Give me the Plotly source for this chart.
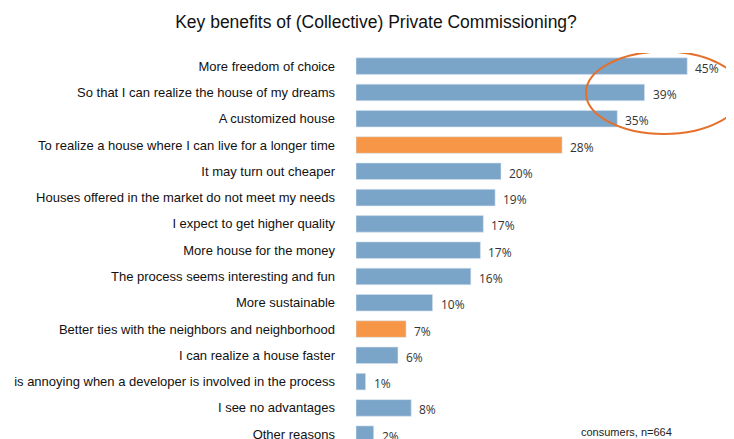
import plotly.graph_objects as go

categories = [
    "More freedom of choice",
    "So that I can realize the house of my dreams",
    "A customized house",
    "To realize a house where I can live for a longer time",
    "It may turn out cheaper",
    "Houses offered in the market do not meet my needs",
    "I expect to get higher quality",
    "More house for the money",
    "The process seems interesting and fun",
    "More sustainable",
    "Better ties with the neighbors and neighborhood",
    "I can realize a house faster",
    "is annoying when a developer is involved in the process",
    "I see no advantages",
    "Other reasons",
]
values = [45.0, 39.2, 35.5, 28.0, 19.7, 18.9, 17.3, 16.9, 15.6, 10.4, 6.8, 5.7, 1.3, 7.5, 2.4]
labels = ["45%", "39%", "35%", "28%", "20%", "19%", "17%", "17%", "16%", "10%", "7%", "6%", "1%", "8%", "2%"]
highlight = [False, False, False, True, False, False, False, False, False, False, True, False, False, False, False]

BLUE = "#7BA4C9"
ORANGE = "#F79646"
colors = [ORANGE if h else BLUE for h in highlight]

OFF = 8  # page body margin
W, H = 734, 439
L = 356 - OFF
PX_PER_PCT = 7.36
xmax = (W - L) / PX_PER_PCT
T = 53 - OFF
row_h = 26.29
ymax = (H - T) / row_h - 0.5

fig = go.Figure()
fig.add_trace(go.Bar(
    x=values, y=categories, orientation="h",
    marker=dict(color=colors, line=dict(color="#d6e2ee", width=0.6)),
    width=0.63, hoverinfo="skip",
))

for c, v, t in zip(categories, values, labels):
    fig.add_annotation(x=v, y=c, text=t, xref="x", yref="y", xanchor="left", yanchor="middle",
                       xshift=6, yshift=-2, showarrow=False,
                       font=dict(family="Open Sans", size=12, color="#333333"))

# highlight ellipse (page px -> data coords)
def px2x(px):
    return (px - OFF - L) / PX_PER_PCT
def py2y(py):
    return (py - OFF - T) / row_h - 0.5

fig.add_shape(type="circle", xref="x", yref="y",
              x0=px2x(586), x1=px2x(742), y0=py2y(51.5), y1=py2y(134),
              line=dict(color="#E4702C", width=2))

fig.add_annotation(text="consumers, n=664", xref="paper", yref="paper",
                   x=(579 - OFF - L) / (W - L), y=(H - (432 - OFF)) / (H - T),
                   xanchor="left", yanchor="middle", showarrow=False,
                   font=dict(family="Liberation Sans", size=11, color="#222222"))

fig.update_layout(
    width=W, height=H, autosize=False,
    margin=dict(l=L, r=0, t=T, b=0),
    plot_bgcolor="white", paper_bgcolor="white",
    showlegend=False,
    title=dict(text="Key benefits of (Collective) Private Commissioning?", x=(376 - OFF) / W, xanchor="center",
               y=1 - (22 - OFF) / H, yanchor="middle",
               font=dict(family="Liberation Sans", size=17.5, color="#111111")),
    xaxis=dict(range=[0, xmax], visible=False, fixedrange=True),
    yaxis=dict(type="category", categoryorder="array", categoryarray=categories,
               range=[ymax, -0.5], showgrid=False, showline=False, ticks="",
               ticklabelstandoff=20,
               tickfont=dict(family="Liberation Sans", size=13, color="#111111")),
)

fig.write_html("out.html")
